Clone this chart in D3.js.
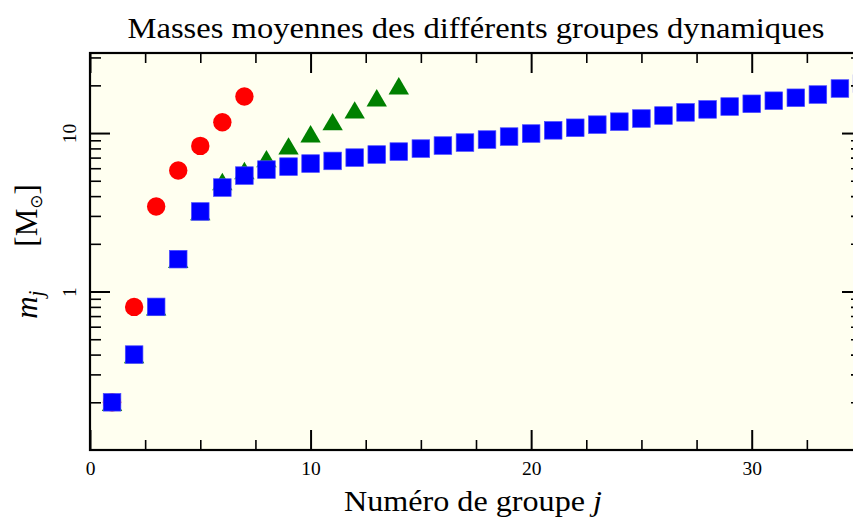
<html lang="fr">
<head>
    <meta charset="UTF-8">
    <title>Masses moyennes</title>
    <script src="https://d3js.org/d3.v7.min.js"></script>
    <style>
        body { margin: 0; background: white; }
        svg { display: block; font-family: "Liberation Serif", "DejaVu Serif", serif; }
    </style>
</head>
<body>
    <script>
        // masses (M_sun), one value per group j = 1, 2, ...
        const redMass = [0.2, 0.8, 3.44, 5.8, 8.3, 11.7, 17.0];
        const greenMass = [0.2, 0.4, 0.8, 1.6, 3.2, 4.95, 5.8, 6.9, 8.3, 9.9, 11.8, 14.0, 16.7, 19.9];
        const blueMass = [0.2, 0.4, 0.8, 1.6, 3.2, 4.53, 5.39, 5.88, 6.14, 6.42, 6.67, 7.0, 7.32, 7.64, 7.98,
                          8.34, 8.71, 9.1, 9.5, 9.93, 10.4, 10.8, 11.3, 11.8, 12.35, 12.9, 13.5, 14.1, 14.7,
                          15.3, 16.0, 16.7, 17.5, 19.1, 20.5];

        const xMajorTicks = [0, 10, 20, 30];
        const xMinorTicks = [2.5, 5, 7.5, 12.5, 15, 17.5, 22.5, 25, 27.5, 32.5];
        const yMajorTicks = [1, 10];
        const yMinorTicks = [0.2, 0.3, 0.4, 0.5, 0.6, 0.7, 0.8, 0.9, 2, 3, 4, 5, 6, 7, 8, 9, 20, 30];

        const w = 853;
        const h = 519;
        const pLeft = 90, pRight = 862, pTop = 53, pBottom = 450;

        const xScale = d3.scaleLinear().domain([0, 35]).range([pLeft, pRight]);
        const yScale = d3.scaleLog().domain([0.1, 32]).range([pBottom, pTop]);

        const svg = d3.select('body')
            .append('svg')
            .attr('width', w)
            .attr('height', h);

        svg.append('rect')
            .attr('x', pLeft)
            .attr('y', pTop)
            .attr('width', pRight - pLeft)
            .attr('height', pBottom - pTop)
            .style('fill', '#fffff0');

        // markers
        const withIndex = arr => arr.map((v, i) => ({ j: i + 1, m: v }));

        svg.append('g')
            .selectAll('circle')
            .data(withIndex(redMass))
            .enter()
            .append('circle')
            .attr('cx', d => xScale(d.j))
            .attr('cy', d => yScale(d.m))
            .attr('r', 9.2)
            .style('fill', '#ff0000');

        svg.append('g')
            .selectAll('path')
            .data(withIndex(greenMass))
            .enter()
            .append('path')
            .attr('d', 'M0,-8.7L10.2,8.7L-10.2,8.7Z')
            .attr('transform', d => `translate(${xScale(d.j)},${yScale(d.m)})`)
            .style('fill', '#008000');

        svg.append('g')
            .selectAll('rect')
            .data(withIndex(blueMass))
            .enter()
            .append('rect')
            .attr('x', d => xScale(d.j) - 8.8)
            .attr('y', d => yScale(d.m) - 8.8)
            .attr('width', 17.6)
            .attr('height', 17.6)
            .style('fill', '#0000ff')
            .style('stroke', '#4a4aff')
            .style('stroke-width', 0.7);

        // axes, ticks pointing inward
        function styleAxis(g, width) {
            g.select('.domain').remove();
            g.selectAll('line').style('stroke', 'black').style('stroke-width', width);
            g.selectAll('text').style('font-family', '"Liberation Serif", serif').style('font-size', '19.5px').style('fill', 'black');
        }

        svg.append('g')
            .attr('transform', `translate(0,${pBottom})`)
            .call(d3.axisBottom(xScale).tickValues(xMajorTicks).tickSize(-20).tickSizeOuter(0).tickPadding(11))
            .call(g => styleAxis(g, 2));
        svg.append('g')
            .attr('transform', `translate(0,${pBottom})`)
            .call(d3.axisBottom(xScale).tickValues(xMinorTicks).tickSize(-10).tickSizeOuter(0).tickFormat(''))
            .call(g => styleAxis(g, 1.6));
        svg.append('g')
            .attr('transform', `translate(0,${pTop})`)
            .call(d3.axisTop(xScale).tickValues(xMajorTicks).tickSize(-20).tickSizeOuter(0).tickFormat(''))
            .call(g => styleAxis(g, 2));
        svg.append('g')
            .attr('transform', `translate(0,${pTop})`)
            .call(d3.axisTop(xScale).tickValues(xMinorTicks).tickSize(-10).tickSizeOuter(0).tickFormat(''))
            .call(g => styleAxis(g, 1.6));

        svg.append('g')
            .attr('transform', `translate(${pLeft},0)`)
            .call(d3.axisLeft(yScale).tickValues(yMajorTicks).tickSize(-20).tickSizeOuter(0).tickFormat(d3.format('d')))
            .call(g => styleAxis(g, 2))
            .call(g => g.selectAll('text')
                .attr('x', 0)
                .attr('dy', 0)
                .attr('text-anchor', 'middle')
                .attr('transform', 'translate(-14,0) rotate(-90)'));
        svg.append('g')
            .attr('transform', `translate(${pLeft},0)`)
            .call(d3.axisLeft(yScale).tickValues(yMinorTicks).tickSize(-11).tickSizeOuter(0).tickFormat(''))
            .call(g => styleAxis(g, 1.6));
        svg.append('g')
            .attr('transform', `translate(${pRight},0)`)
            .call(d3.axisRight(yScale).tickValues(yMajorTicks).tickSize(-20).tickSizeOuter(0).tickFormat(''))
            .call(g => styleAxis(g, 2));
        svg.append('g')
            .attr('transform', `translate(${pRight},0)`)
            .call(d3.axisRight(yScale).tickValues(yMinorTicks).tickSize(-11).tickSizeOuter(0).tickFormat(''))
            .call(g => styleAxis(g, 1.6));

        // frame
        svg.append('rect')
            .attr('x', pLeft)
            .attr('y', pTop)
            .attr('width', pRight - pLeft)
            .attr('height', pBottom - pTop)
            .style('fill', 'none')
            .style('stroke', 'black')
            .style('stroke-width', 2.2);

        // title and labels (the original face is wider than Times, so stretch to its width)
        svg.append('text')
            .attr('x', (pLeft + pRight) / 2)
            .attr('y', 38)
            .attr('text-anchor', 'middle')
            .attr('textLength', 697)
            .attr('lengthAdjust', 'spacingAndGlyphs')
            .style('font-size', '29px')
            .text('Masses moyennes des différents groupes dynamiques');

        const xLabel = svg.append('text')
            .attr('x', (pLeft + pRight) / 2 - 3)
            .attr('y', 511)
            .attr('text-anchor', 'middle')
            .attr('textLength', 258)
            .attr('lengthAdjust', 'spacingAndGlyphs')
            .style('font-size', '29px');
        xLabel.append('tspan').text('Numéro de groupe ');
        xLabel.append('tspan').style('font-style', 'italic').text('j');

        const yLabel = svg.append('text')
            .attr('transform', `translate(37,${(pTop + pBottom) / 2}) rotate(-90)`)
            .attr('text-anchor', 'middle')
            .style('font-size', '31px');
        yLabel.append('tspan').style('font-style', 'italic').text('m');
        yLabel.append('tspan').style('font-style', 'italic').style('font-size', '21px').attr('dy', 6).text('j');
        yLabel.append('tspan').attr('dy', -6).attr('dx', 44).text('[M');
        yLabel.append('tspan').style('font-family', '"DejaVu Sans", sans-serif').style('font-size', '17px').attr('dy', 5).text('⊙');
        yLabel.append('tspan').attr('dy', -5).text(']');
    </script>
</body>
</html>
